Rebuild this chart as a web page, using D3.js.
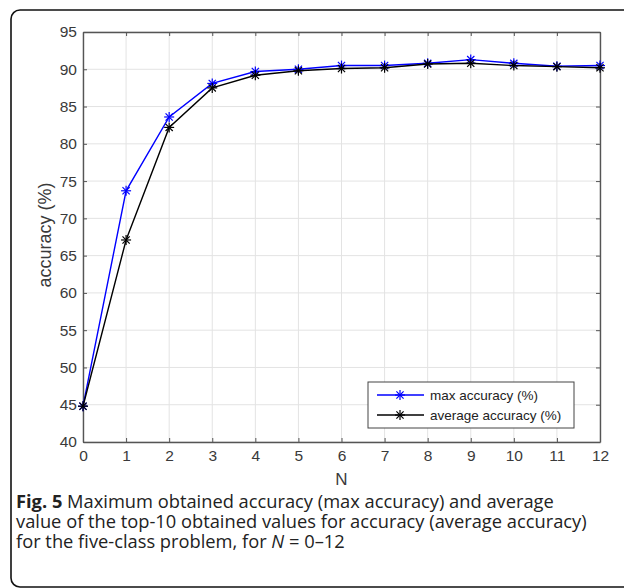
<!DOCTYPE html>
<html>
<head>
<meta charset="utf-8">
<script src="https://cdn.jsdelivr.net/npm/d3@7"></script>
<style>
  body { margin: 0; background: #fff; }
  svg { display: block; }
</style>
</head>
<body>
<div id="chart"></div>
<script>
// data
const nValues = [0, 1, 2, 3, 4, 5, 6, 7, 8, 9, 10, 11, 12]
const maxAccuracy = [44.8, 73.7, 83.6, 88.1, 89.7, 90.0, 90.5, 90.5, 90.8, 91.3, 90.8, 90.4, 90.5]
const avgAccuracy = [44.8, 67.1, 82.2, 87.5, 89.2, 89.8, 90.1, 90.2, 90.7, 90.8, 90.5, 90.35, 90.2]
const yTicks = [40, 45, 50, 55, 60, 65, 70, 75, 80, 85, 90, 95]
const seriesNames = ['max accuracy (%)', 'average accuracy (%)']
const seriesColors = ['#0000ff', '#000000']
const captionLines = [
  'Maximum obtained accuracy (max accuracy) and average',
  'value of the top-10 obtained values for accuracy (average accuracy)',
  'for the five-class problem, for '
]

const width = 624
const height = 588
const margin = { left: 83, right: 24, top: 32, bottom: 146 }

const svg = d3.select('#chart').append('svg')
  .attr('width', width)
  .attr('height', height)

// outer rounded frame, runs off the right edge like the scan
svg.append('rect')
  .attr('x', 11).attr('y', 10)
  .attr('width', 640).attr('height', 577)
  .attr('rx', 9)
  .attr('fill', 'none')
  .attr('stroke', '#111')
  .attr('stroke-width', 1.6)

const x = d3.scaleLinear()
  .domain([0, 12])
  .range([margin.left, width - margin.right])

const y = d3.scaleLinear()
  .domain([40, 95])
  .range([height - margin.bottom, margin.top])

const axisColor = '#555'
const textColor = '#3a3a3a'
const font = 'Liberation Sans, Arial, sans-serif'

// grid
const grid = svg.append('g')
grid.selectAll('.vgrid')
  .data(nValues)
  .join('line')
  .attr('x1', d => x(d)).attr('x2', d => x(d))
  .attr('y1', y(40)).attr('y2', y(95))
  .attr('stroke', '#e3e3e3')
  .attr('stroke-width', 1)
grid.selectAll('.hgrid')
  .data(yTicks)
  .join('line')
  .attr('x1', x(0)).attr('x2', x(12))
  .attr('y1', d => y(d)).attr('y2', d => y(d))
  .attr('stroke', '#e3e3e3')
  .attr('stroke-width', 1)

// axes (inward ticks like matlab)
const styleAxis = (g) => {
  g.select('.domain').attr('stroke', axisColor).attr('stroke-width', 1.4)
  g.selectAll('.tick line').attr('stroke', axisColor)
  g.selectAll('.tick text')
    .attr('fill', textColor)
    .style('font-family', font)
    .style('font-size', '15.5px')
}

svg.append('g')
  .attr('transform', `translate(0,${y(40)})`)
  .call(d3.axisBottom(x).tickValues(nValues).tickSizeInner(-4).tickSizeOuter(0).tickPadding(8))
  .call(styleAxis)

svg.append('g')
  .attr('transform', `translate(0,${y(95)})`)
  .call(d3.axisTop(x).tickValues(nValues).tickSizeInner(-4).tickSizeOuter(0).tickFormat(''))
  .call(styleAxis)

svg.append('g')
  .attr('transform', `translate(${x(0)},0)`)
  .call(d3.axisLeft(y).tickValues(yTicks).tickSizeInner(-4).tickSizeOuter(0).tickPadding(6))
  .call(styleAxis)

svg.append('g')
  .attr('transform', `translate(${x(12)},0)`)
  .call(d3.axisRight(y).tickValues(yTicks).tickSizeInner(-4).tickSizeOuter(0).tickFormat(''))
  .call(styleAxis)

// axis labels
svg.append('text')
  .attr('x', (x(0) + x(12)) / 2)
  .attr('y', 485)
  .attr('text-anchor', 'middle')
  .attr('fill', textColor)
  .style('font-family', font)
  .style('font-size', '17px')
  .text('N')

svg.append('text')
  .attr('transform', `translate(51,${(y(40) + y(95)) / 2 - 2}) rotate(-90)`)
  .attr('text-anchor', 'middle')
  .attr('fill', textColor)
  .style('font-family', font)
  .style('font-size', '18px')
  .text('accuracy (%)')

// asterisk marker
const star = (g, cx, cy, color, r = 5) => {
  const m = g.append('g').attr('transform', `translate(${cx},${cy})`)
    .attr('stroke', color).attr('stroke-width', 1.2)
  m.append('line').attr('x1', -r).attr('x2', r).attr('y1', 0).attr('y2', 0)
  m.append('line').attr('x1', 0).attr('x2', 0).attr('y1', -r).attr('y2', r)
  const d = r * 0.72
  m.append('line').attr('x1', -d).attr('x2', d).attr('y1', -d).attr('y2', d)
  m.append('line').attr('x1', -d).attr('x2', d).attr('y1', d).attr('y2', -d)
}

const line = d3.line()
  .x((d, i) => x(nValues[i]))
  .y(d => y(d))

const series = [maxAccuracy, avgAccuracy]
series.forEach((vals, si) => {
  const g = svg.append('g')
  g.append('path')
    .datum(vals)
    .attr('d', line)
    .attr('fill', 'none')
    .attr('stroke', seriesColors[si])
    .attr('stroke-width', 1.4)
  vals.forEach((v, i) => star(g, x(nValues[i]), y(v), seriesColors[si]))
})

// legend
const legend = svg.append('g').attr('transform', 'translate(368,382)')
legend.append('rect')
  .attr('width', 206).attr('height', 46)
  .attr('fill', '#fff')
  .attr('stroke', '#444')
  .attr('stroke-width', 1)
seriesNames.forEach((name, i) => {
  const ly = 13 + i * 20
  legend.append('line')
    .attr('x1', 9).attr('x2', 56)
    .attr('y1', ly).attr('y2', ly)
    .attr('stroke', seriesColors[i])
    .attr('stroke-width', 1.4)
  star(legend, 32, ly, seriesColors[i])
  legend.append('text')
    .attr('x', 62).attr('y', ly)
    .attr('dy', '0.35em')
    .attr('fill', '#222')
    .style('font-family', font)
    .style('font-size', '13.5px')
    .text(name)
})

// caption, one text block with a tspan per line
const cap = svg.append('text')
  .attr('x', 16).attr('y', 508)
  .style('font-family', '"Open Sans", sans-serif')
  .style('font-size', '18.3px')
  .attr('fill', '#222')
cap.append('tspan').style('font-weight', 'bold').text('Fig. 5')
cap.append('tspan').text(' ' + captionLines[0])
cap.append('tspan').attr('x', 16).attr('dy', 20).text(captionLines[1])
cap.append('tspan').attr('x', 16).attr('dy', 20).text(captionLines[2])
cap.append('tspan').style('font-style', 'italic').text('N')
cap.append('tspan').text(' = 0–12')
</script>
</body>
</html>
